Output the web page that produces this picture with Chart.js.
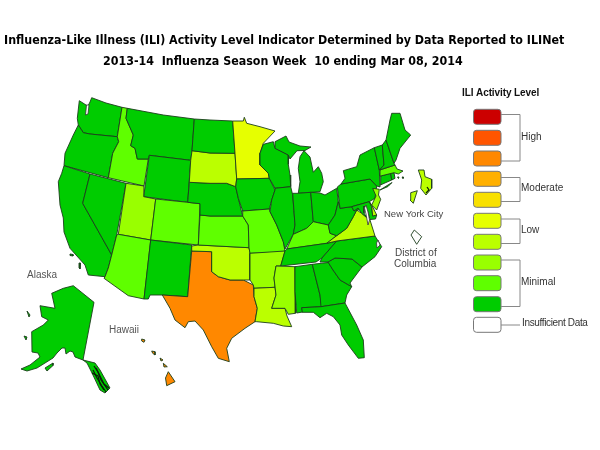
<!DOCTYPE html>
<html>
<head>
<meta charset="utf-8">
<title>ILI Activity Level</title>
<script src="https://cdn.jsdelivr.net/npm/chart.js@4/dist/chart.umd.min.js"></script>
<style>
  body { margin: 0; background: #fff; }
  #wrap { position: relative; width: 600px; height: 450px; }
</style>
</head>
<body>
<div id="wrap"><canvas id="map" width="600" height="450"></canvas></div>
<script>
// ILI level per state (1 = lowest, 10 = highest)
const levelColors = ['#00cc00', '#5fff00', '#99ff00', '#bbff00', '#e6ff00', '#f8e000', '#ffb000', '#ff8800', '#ff5500', '#cc0000'];
const levelGroups = ['High', 'Moderate', 'Low', 'Minimal'];
const titleLines = [
  'Influenza-Like Illness (ILI) Activity Level Indicator Determined by Data Reported to ILINet',
  '2013-14  Influenza Season Week  10 ending Mar 08, 2014'
];

const stateNames = ['WA', 'OR', 'CA', 'NV', 'ID', 'MT', 'WY', 'UT', 'CO', 'AZ', 'NM', 'TX', 'OK', 'KS', 'NE', 'SD', 'ND', 'MN', 'IA', 'MO', 'AR', 'LA', 'WI', 'IL', 'MI', 'IN', 'OH', 'KY', 'TN', 'MS', 'AL', 'GA', 'FL', 'SC', 'NC', 'VA', 'WV', 'PA', 'MD', 'DE', 'NJ', 'NY', 'CT', 'RI', 'MA', 'VT', 'NH', 'ME', 'AK', 'HI', 'NYC', 'DC'];
const stateLevels = [1, 1, 1, 1, 2, 1, 1, 3, 2, 2, 1, 8, 4, 2, 1, 4, 1, 5, 1, 2, 3, 4, 1, 1, 1, 1, 1, 2, 1, 3, 1, 1, 1, 1, 1, 4, 1, 1, 1, 4, 3, 1, 1, 1, 2, 1, 1, 1, 1, 8, 4, 0];

// outlines in map units, traced by eye
const WA = [[[79.3,100.7],[86,105],[88,106],[90,102],[91.7,97.7],[106,103],[122,107.3],[117.3,136.7],[100,135],[90,134],[83.3,132.7],[78.3,125],[77.3,118.3]]];
const OR = [[[78.3,125],[83.3,132.7],[90,134],[100,135],[117.3,136.7],[118.7,141.7],[112.7,153.3],[108.3,177.7],[64,165.7],[65,153.3],[73.3,135]]];
const CA = [[[64,165.7],[90,174],[82.7,203.3],[111.7,255],[108.3,268],[105,276.7],[88.3,275],[85,265],[70,248.3],[64,232],[63.3,218],[60,205],[58.3,181.7],[61.7,173.3]], [[70,254],[73,254.5],[73,256],[70,255.5]], [[79,263],[80.5,263],[80,269],[79,268]]];
const NV = [[[90,174],[126,183.3],[116.7,235],[111.7,255],[82.7,203.3]]];
const ID = [[[122,107.3],[127.3,108.3],[126,118.3],[133.3,135],[130.7,145.7],[135,148.3],[137.3,159],[148.3,159],[144,186],[108.3,177.7],[112.7,153.3],[118.7,141.7],[117.3,136.7]]];
const MT = [[[127.3,108.3],[163.3,115],[194.3,119],[192,150.7],[190.7,160.3],[149.3,155.3],[148.3,159],[137.3,159],[135,148.3],[130.7,145.7],[133.3,135],[126,118.3]]];
const WY = [[[149.3,155.3],[190.7,160.3],[187.7,202.3],[143.7,196.7]]];
const UT = [[[126,183.3],[144,186],[143.7,196.7],[155.7,199],[150.7,240],[118.3,234.3]]];
const CO = [[[155.7,199],[187.7,202.3],[200,203.7],[198.3,245],[150.7,240]]];
const AZ = [[[118.3,234.3],[150.7,240],[144,299],[128.3,295.7],[104,278.3],[105,276.7],[108.3,268],[111.7,255],[116.7,235]]];
const NM = [[[150.7,240],[191.7,245],[187.7,296.7],[162.3,295],[150,295],[148.3,299],[144,299]]];
const TX = [[[191.7,251],[211.7,251.7],[211.7,271.7],[218.3,276.7],[230,280],[243.3,280],[253.3,285],[254,296.7],[257.3,308.3],[255,321.7],[245,328.3],[231.7,338.3],[226.7,348.3],[229.3,361.7],[218.3,358.3],[211.7,346.7],[203.3,330],[195,321],[188.3,321.7],[185,327.7],[175,320],[170,308.3],[162.3,295],[187.7,296.7]]];
const OK = [[[191.7,246],[198.3,245],[249,247.7],[250,253.3],[250,280],[243.3,280],[230,280],[218.3,276.7],[211.7,271.7],[211.7,251.7],[191.7,251]]];
const KS = [[[200,215],[210,216],[242.7,216],[248.3,225],[249,247.7],[198.3,245]]];
const NE = [[[189.3,182.3],[210,183.3],[226.7,183.3],[235.7,186.7],[238.3,198.3],[242.7,216],[210,216],[200,215],[200,203.7],[187.7,202.3]]];
const SD = [[[192,150.7],[210,153],[235,153.3],[236.7,178.3],[235.7,186.7],[226.7,183.3],[210,183.3],[189.3,182.3],[190.7,160.3]]];
const ND = [[[194.3,119],[210,120],[232.7,121],[235,153.3],[210,153],[192,150.7]]];
const MN = [[[232.7,121],[243.3,121],[244.3,117.3],[246.7,123.3],[260,126.7],[275,131],[263.3,143.3],[260,153.3],[260,165],[268.3,173.3],[269.3,178.3],[236.7,179],[235,153.3]]];
const IA = [[[236.7,179],[269.3,178.3],[275,190],[271.7,200],[269.3,209],[242.7,211],[238.3,198.3],[235.7,186.7]]];
const MO = [[[242.7,211],[269.3,209],[270,211.7],[276.7,225],[283.3,241.7],[285,251],[280,252.3],[250,253.3],[249,247.7],[248.3,225],[242.7,216]]];
const AR = [[[250,253.3],[285,251],[280.7,266],[276,266],[274,278],[275,287.3],[254,288.3],[253.3,285],[250,280]]];
const LA = [[[254,288.3],[275,287.3],[276,295],[271.7,308.3],[285,308.3],[287,316],[291.7,326.7],[283.3,326],[273.3,323.3],[256.7,321.7],[255,321.7],[257.3,308.3],[254,296.7]]];
const WI = [[[263.3,144.3],[273.3,141.7],[275,148.3],[288.3,155],[288.3,164.3],[290,175],[290.7,186.7],[275,188.3],[269.3,178.3],[268.3,173.3],[260,165],[260,153.3]]];
const IL = [[[275,188.3],[290.7,186.7],[292.7,195],[295,225],[293.3,234.3],[285,249],[283.3,241.7],[276.7,225],[270,211.7],[271.7,200],[275,190]]];
const MI = [[[275,141.7],[286,136],[289,142],[300,146],[311,147],[305,150.5],[297,150.7],[290,159],[288.3,155],[275,148.3]], [[304,150.7],[310,157],[313.3,172.3],[318.3,166.7],[321.7,173.3],[323.3,181.7],[320,191.7],[298.3,193.3],[300,181.7],[298.3,168.3],[300,156.7]]];
const IN = [[[292.7,193.3],[298.3,193.3],[310.7,192.3],[313.3,221.7],[306.7,228.3],[293.3,234.3],[295,225]]];
const OH = [[[310.7,192.3],[320,193],[325,195],[336.7,188.3],[338.3,201.7],[335,215],[328.3,225],[313.3,221.7]]];
const KY = [[[286.7,249],[293.3,234.3],[306.7,228.3],[313.3,221.7],[328.3,225],[330,233.3],[336.7,235.7],[326.7,243.3]]];
const TN = [[[286.7,249],[326.7,243.3],[336.7,241],[322,258],[316,262],[280.7,266],[285,251]]];
const MS = [[[276,266],[295,266.7],[295,291.7],[295.7,313.3],[288.3,314.3],[285,308.3],[271.7,308.3],[276,295],[274,278]]];
const AL = [[[295,266.7],[312.3,264.3],[320,295],[321.7,306.7],[301.7,307.7],[302.7,312],[296.7,313],[295,291.7]]];
const GA = [[[312.3,264.3],[328.3,262.5],[333,270],[340,280],[351.7,286.7],[346.7,295],[345,303],[321,306.7],[320,295]]];
const FL = [[[301.7,307.7],[321,306.7],[345,303],[356.7,325],[363.3,340],[364.3,357.7],[358.3,358.3],[348.3,345],[341.7,335],[340,325],[333.3,316.7],[326.7,313.3],[320,317.7],[313.3,312.3],[302.3,312.3]]];
const SC = [[[328,262],[335,258],[352,259],[362,267],[350,283],[351.7,286.7],[340,280],[333,270]]];
const NC = [[[336.7,241],[375,236],[381.7,246.7],[375,256.7],[362,267],[352,259],[335,258],[328,262],[320,262],[322,258]]];
const VA = [[[326.7,243.3],[336.7,235.7],[346.7,228.3],[353.3,216.7],[356.7,210],[361.7,213.3],[370,220],[375,236],[336.7,241]]];
const WV = [[[335,215],[338.3,201.7],[340,208.3],[351.7,206.7],[354,211],[358,208],[361.7,209.5],[356.7,210],[353.3,216.7],[346.7,228.3],[336.7,235.7],[330,233.3],[328.3,225]]];
const PA = [[[337.3,187],[341,184],[370,179],[376.7,186],[375,198.3],[369.3,201.7],[351.7,206.7],[340,208.3]]];
const MD = [[[351.7,206.7],[369.3,201.7],[371.7,206.7],[372.7,216],[376.7,215],[375.5,219],[370,219.5],[368,212],[364,206],[364,213],[367,218],[361.7,213.3],[358,208],[354,211]]];
const DE = [[[369.3,201.7],[371.7,205],[376.7,215],[372.7,216],[371.7,206.7]]];
const NJ = [[[372.7,188.3],[379.3,189.3],[378.5,195],[380.7,199.3],[376.7,210],[371.7,205],[376,196]]];
const NY = [[[341,184],[345,178.3],[343.3,170.7],[356.7,166.7],[360,155],[374.3,147.7],[379.3,170],[380,187],[376.7,186],[370,179]], [[380,190],[392,182.5],[388,186.5]]];
const CT = [[[380.7,176],[390.7,173.3],[391.7,180],[380.3,185]]];
const RI = [[[390.7,173.3],[394,172.7],[395,178.3],[391.7,180]]];
const MA = [[[380,170],[395,165],[397,169],[403,171],[398.3,174],[394,172.7],[380.7,176]], [[397.5,177],[399,177],[398.5,178.5]], [[402,177],[403.5,177],[403,178.5]]];
const VT = [[[374.3,147.7],[382.3,145],[384,165],[379.3,170]]];
const NH = [[[382.3,145],[386,140],[394,163.3],[395,165],[384,168.5],[379.3,170],[384,165]]];
const ME = [[[386,140],[390,120],[391.7,113.3],[400,113.3],[405,130],[410.7,135],[400,148.3],[396,160],[394,163.3]]];
const AK = [[[94,302.3],[73.3,285.7],[63.3,288.3],[51.7,293.3],[55,308.3],[40,305.7],[41.7,316.7],[48.3,320],[43.3,325],[31.7,331.7],[32,352],[38,353],[40,357],[30,365],[21,369],[27,371],[37,368],[53,358],[57,353],[62,348],[65,348],[66,354],[70,351],[73,352],[75,357],[83,360],[95,363],[100,370],[110,388],[105,393],[100,390],[92,373],[87,363],[83,360]], [[45,368],[53,363],[53,365.5],[47,371]], [[24,336],[27,337],[26,340]], [[27,311],[30,315],[29,317]]];
const HI = [[[168.3,371.7],[175,381.7],[166.7,385.7],[165.5,378]], [[163.3,363.3],[167.3,366.7],[164,367]], [[160,358],[163,360],[161,361]], [[151.7,351],[155,351.7],[155,355],[152.7,353.3]], [[141.7,339],[145,340],[144,342.3],[141.7,341]]];
const NYC = [[[418.3,170],[424,170],[425,176.7],[431.7,179.3],[431.7,188.3],[426,195],[420.7,188.3],[421.7,180]], [[410.7,192.7],[417.3,190.7],[413.3,203.3],[410,200]]];
const DC = [[[414.3,230],[421.7,236.7],[416.7,244.3],[411,235]]];
const stateOutlines = [WA, OR, CA, NV, ID, MT, WY, UT, CO, AZ, NM, TX, OK, KS, NE, SD, ND, MN, IA, MO, AR, LA, WI, IL, MI, IN, OH, KY, TN, MS, AL, GA, FL, SC, NC, VA, WV, PA, MD, DE, NJ, NY, CT, RI, MA, VT, NH, ME, AK, HI, NYC, DC];

// water and the dark fringe of the island coasts
const waterOutlines = [
  [[86.5,105],[89,105],[88,114],[85.5,115]],
  [[366,205],[368,212],[369.5,220],[368,225],[366,214],[364.5,208]],
  [[378,240],[380,245],[377,248],[376.5,243]]
];
const panhandleLines = [
  [[94,366],[98,372],[101,380],[108,390]],
  [[96,368],[100,376],[104,384],[109,388]],
  [[93,370],[97,378],[102,386],[106,392]],
  [[92,373],[98,376],[100,384],[104,390]],
  [[427,187],[429,190],[426,193]]
];

function toPoints(ring) {
  return ring.concat([ring[0]]).map(([x, y]) => ({ x, y }));
}

const datasets = [];
stateOutlines.forEach((rings, i) => {
  rings.forEach((ring) => {
    datasets.push({
      label: stateNames[i],
      data: toPoints(ring),
      showLine: true,
      fill: 'shape',
      backgroundColor: stateLevels[i] ? levelColors[stateLevels[i] - 1] : '#ffffff',
      borderColor: '#1c3d1c',
      borderWidth: 0.9,
      pointRadius: 0,
      tension: 0,
    });
  });
});
waterOutlines.forEach((ring) => {
  datasets.push({ data: toPoints(ring), showLine: true, fill: 'shape', backgroundColor: '#ffffff', borderColor: '#333', borderWidth: 0.8, pointRadius: 0 });
});
panhandleLines.forEach((ring) => {
  datasets.push({ data: ring.map(([x, y]) => ({ x, y })), showLine: true, fill: false, borderColor: '#0a1a0a', borderWidth: 1.2, pointRadius: 0 });
});
// Chart.js paints the first dataset last, so flip to keep water and detail on top
datasets.reverse();

// legend and text drawn on top, placed through the scales
const textPlugin = {
  id: 'mapText',
  afterDraw(chart) {
    const { ctx, scales: { x, y } } = chart;
    const px = (v) => x.getPixelForValue(v);
    const py = (v) => y.getPixelForValue(v);
    const text = (str, tx, ty, font, color, spacing) => {
      ctx.font = font;
      ctx.fillStyle = color;
      ctx.textAlign = 'left';
      ctx.textBaseline = 'alphabetic';
      ctx.letterSpacing = spacing || '0px';
      ctx.fillText(str, px(tx), py(ty));
    };
    ctx.save();

    text(titleLines[0], 4, 44, 'bold 12.35px "DejaVu Sans Condensed", "DejaVu Sans"', '#000');
    text(titleLines[1], 103, 65, 'bold 12.35px "DejaVu Sans Condensed", "DejaVu Sans"', '#000');

    const labelFont = '10px "Liberation Sans"';
    text('Alaska', 27, 278, labelFont, '#555');
    text('Hawaii', 109, 333, labelFont, '#555');
    text('New York City', 384, 217, '9.5px "Liberation Sans"', '#444');
    text('District of', 395, 256, labelFont, '#444');
    text('Columbia', 394, 267, labelFont, '#444');

    text('ILI Activity Level', 462, 96, 'bold 10px "Liberation Sans"', '#111', '-0.1px');

    // swatches, highest level on top, then the white one
    const swatchTops = [109.3, 130.3, 151, 171.3, 192.3, 213.3, 234.3, 255, 275.7, 296.7, 317.3];
    swatchTops.forEach((top, i) => {
      ctx.beginPath();
      ctx.roundRect(px(473.5), py(top), 27.5, 15, 3);
      ctx.fillStyle = i < 10 ? levelColors[9 - i] : '#ffffff';
      ctx.fill();
      ctx.strokeStyle = '#777';
      ctx.lineWidth = 1;
      ctx.stroke();
    });

    const brackets = [[114.5, 161], [177.5, 201.5], [219, 243.5], [260, 306.5]];
    const groupY = [139.5, 191, 232.5, 284.5];
    ctx.strokeStyle = '#888';
    brackets.forEach(([top, bottom], i) => {
      ctx.beginPath();
      ctx.moveTo(px(501), py(top));
      ctx.lineTo(px(520), py(top));
      ctx.lineTo(px(520), py(bottom));
      ctx.lineTo(px(501), py(bottom));
      ctx.stroke();
      text(levelGroups[i], 521, groupY[i], labelFont, '#333');
    });
    ctx.beginPath();
    ctx.moveTo(px(501), py(325));
    ctx.lineTo(px(520), py(325));
    ctx.stroke();
    text('Insufficient Data', 522, 326, labelFont, '#333', '-0.35px');
    ctx.restore();
  },
};

new Chart(document.getElementById('map'), {
  type: 'scatter',
  data: { datasets },
  plugins: [textPlugin],
  options: {
    responsive: false,
    animation: false,
    layout: { padding: 0 },
    plugins: { legend: { display: false }, tooltip: { enabled: false }, title: { display: false } },
    scales: {
      x: { type: 'linear', min: 0, max: 600, display: false },
      y: { type: 'linear', min: 0, max: 450, reverse: true, display: false },
    },
  },
});
</script>
</body>
</html>
